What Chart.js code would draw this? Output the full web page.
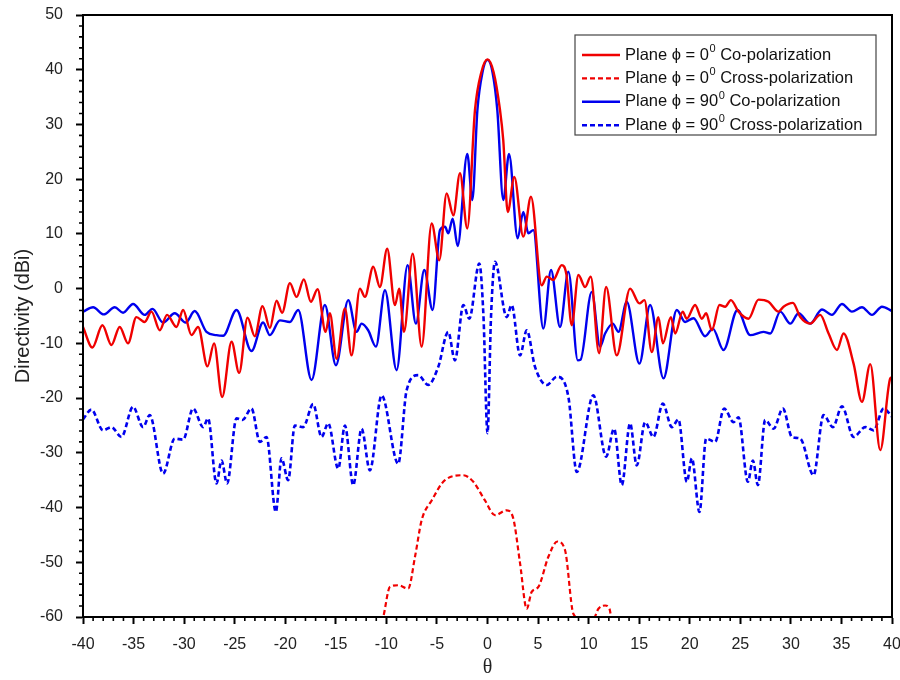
<!DOCTYPE html>
<html><head><meta charset="utf-8">
<script src="https://cdn.jsdelivr.net/npm/chart.js@4/dist/chart.umd.min.js"></script>
<style>html,body{margin:0;padding:0;background:#fff}#wrap{width:900px;height:680px;position:relative}</style>
</head><body><div id="wrap"><canvas id="c" width="900" height="680"></canvas></div>
<script>
// ---- data (theta in degrees, directivity in dBi) ----
const thetaCo0 = [-40,-39.07,-38.08,-37.19,-36.37,-35.55,-34.72,-33.9,-33.23,-32.41,-31.69,-30.76,-30.1,-29.27,-28.62,-27.69,-27.04,-26.24,-25.31,-24.56,-23.73,-23.01,-22.25,-21.52,-20.86,-20.31,-19.54,-18.88,-18.16,-17.47,-16.8,-16.01,-15.59,-14.92,-14.1,-13.44,-12.62,-12.12,-11.3,-10.64,-9.92,-9.15,-8.73,-8.26,-7.4,-6.51,-5.52,-4.77,-4.04,-3.38,-2.72,-2.0,-1.24,-0.6,0,0.6,1.24,1.56,2.0,2.65,3.54,4.3,5.36,5.86,6.5,7.34,7.8,8.33,8.99,9.65,10.21,11.03,11.73,12.78,14.1,15.02,15.52,16.25,16.9,17.34,18.13,18.56,19.3,19.7,20.53,21.2,21.62,22.18,22.94,23.5,24.07,24.82,25.81,26.8,27.79,28.78,29.27,30.2,30.93,31.91,32.9,33.73,34.56,35.21,36.2,37.03,37.85,38.84,39.83,40];
const dirCo0   = [-7.0,-10.75,-6.7,-10.3,-7.0,-10.0,-5.2,-6.1,-4.2,-7.6,-4.8,-7.0,-3.9,-8.5,-7.0,-14.2,-10.0,-19.8,-9.7,-15.4,-5.3,-8.7,-3.2,-7.2,-2.2,-4.4,1.0,-1.5,1.7,-2.4,-0.1,-7.9,-4.5,-12.8,-3.6,-12.2,0.0,-1.5,4.0,0.3,7.3,-3.0,0.0,-7.9,6.4,-10.6,11.9,5.2,17.4,13.4,21.1,11.0,32.6,39.6,41.9,39.6,32.6,27.1,14.0,20.4,9.5,16.8,0.6,2.2,1.6,4.3,2.6,-6.7,2.5,0.3,2.2,-11.8,0.3,-12.2,0.0,-2.7,-2.1,-11.6,-5.2,-10.0,-5.2,-8.2,-4.2,-5.5,-3.0,-5.5,-4.5,-7.6,-3.0,-3.3,-2.1,-4.2,-5.5,-2.0,-2.4,-4.2,-3.3,-2.6,-5.2,-6.4,-4.8,-8.2,-11.2,-8.2,-13.7,-20.7,-13.8,-29.5,-16.4,-16.2];

const thetaCross0 = [-10.5,-10.31,-9.65,-8.83,-7.84,-7.17,-6.51,-5.52,-4.21,-2.39,-1.4,-0.25,0.74,1.9,2.55,3.22,3.88,4.37,5.03,6.02,6.91,7.67,8.49,9.15,10.47,10.97,11.63,12.06,12.3];
const dirCross0   = [-61,-60,-54.5,-54.2,-54.8,-49.0,-42.3,-38.7,-35.0,-34.1,-35.3,-38.7,-41.4,-40.5,-42.0,-50.2,-58.5,-55.4,-54.5,-49.0,-46.2,-47.8,-59.4,-60.3,-60.3,-58.5,-57.9,-58.5,-61];

const thetaCo90 = [-40,-39.0,-37.95,-36.86,-36.04,-35.05,-33.89,-33.13,-32.08,-30.93,-29.84,-28.95,-27.79,-26.8,-26.14,-24.82,-23.34,-22.19,-21.52,-20.53,-19.54,-18.72,-17.4,-16.08,-14.99,-13.77,-12.95,-12.45,-11.8,-11.03,-10.14,-8.99,-7.9,-7.08,-6.25,-5.43,-4.7,-4.2,-3.88,-3.44,-2.95,-2.0,-1.5,-1.0,-0.5,0,0.5,0.97,1.56,2.13,2.98,3.54,4.04,4.53,5.52,6.28,7.17,8.0,8.93,9.2,10.31,11.13,11.63,12.39,12.95,13.77,15.02,16.08,17.4,18.72,19.54,20.37,21.52,22.28,23.34,24.72,25.98,27.29,27.96,28.95,29.94,30.76,31.91,33.07,34.06,35.05,36.04,37.03,38.02,39.01,40];
const dirCo90   = [-4.2,-3.4,-4.7,-3.4,-4.4,-2.8,-4.8,-3.7,-6.2,-4.5,-6.2,-4.1,-7.9,-8.5,-8.6,-3.9,-11.4,-6.2,-8.5,-5.8,-6.1,-3.9,-16.7,-3.0,-14.0,-2.1,-7.9,-6.4,-7.6,-10.6,-0.3,-14.9,4.3,-6.4,3.4,-3.9,10.7,11.3,10.1,12.8,7.8,24.6,16.2,32.6,39.5,41.8,39.5,32.6,16.2,24.6,9.2,14.0,10.1,10.7,-7.3,3.4,-7.0,3.1,-13.1,-13.0,-0.6,-10.6,-8.2,-6.4,-7.9,-2.4,-13.7,-3.0,-16.4,-3.9,-6.1,-5.4,-8.7,-7.3,-11.2,-3.9,-8.5,-7.9,-8.2,-4.2,-6.4,-4.5,-6.4,-3.8,-4.8,-2.8,-4.2,-3.4,-4.8,-3.3,-4.1];

const thetaCross90 = [-40,-39.17,-38.02,-37.19,-36.2,-35.05,-34.06,-33.4,-32.08,-30.93,-30.1,-29.11,-28.12,-27.63,-26.8,-26.3,-25.75,-24.82,-24.23,-23.34,-22.51,-21.85,-20.93,-20.37,-19.71,-19.05,-18.23,-17.24,-16.41,-15.75,-14.76,-14.1,-13.28,-12.45,-11.63,-10.47,-8.83,-8.0,-6.85,-5.86,-4.87,-3.88,-3.22,-2.39,-1.8,-0.81,-0.4,0,0.35,0.74,1.9,2.39,3.22,3.88,4.7,5.86,6.85,8.0,8.83,10.47,11.73,12.52,13.28,14.1,14.76,15.59,16.41,17.34,18.23,18.88,19.71,20.21,20.96,21.62,22.51,23.4,24.33,24.82,25.75,26.24,26.74,27.46,28.29,29.21,30.1,30.93,32.24,33.23,34.16,35.05,36.2,37.36,38.18,39.17,40];
const dirCross90   = [-23.9,-22.1,-25.9,-25.3,-27.1,-21.6,-25.3,-23.1,-33.8,-27.4,-27.6,-21.9,-25.3,-23.7,-35.6,-31.4,-35.6,-23.7,-24.0,-21.9,-28.0,-27.1,-40.8,-31.0,-35.0,-25.0,-25.3,-21.1,-27.1,-24.6,-32.9,-25.0,-35.9,-25.6,-33.2,-19.5,-32.0,-18.6,-15.8,-17.6,-14.3,-7.9,-13.1,-3.0,-5.5,4.6,-5.0,-26.4,-5.0,4.9,-5.2,-3.0,-12.2,-7.6,-14.3,-17.6,-16.1,-19.8,-33.5,-19.5,-30.7,-25.6,-35.9,-24.6,-32.3,-24.4,-27.1,-21.0,-25.3,-23.9,-35.3,-31.0,-40.8,-27.4,-28.0,-21.9,-24.4,-23.5,-35.3,-31.4,-35.9,-24.0,-25.6,-21.9,-27.1,-27.4,-34.1,-23.1,-25.3,-21.5,-27.1,-25.3,-25.9,-21.9,-23.4];

const planeAngles = ['0','0','90','90'];
const polarizations = ['Co-polarization','Cross-polarization','Co-polarization','Cross-polarization'];
const xTickLabels = [-40,-35,-30,-25,-20,-15,-10,-5,0,5,10,15,20,25,30,35,40];
const yTickLabels = [-60,-50,-40,-30,-20,-10,0,10,20,30,40,50];

const RED = 'rgb(240,0,0)', BLUE = 'rgb(0,0,238)';
const pts = (xs, ys) => xs.map((v, i) => ({x: v, y: ys[i]}));
const labelOf = i => 'Plane \u03D5 = ' + planeAngles[i] + '\u2070 ' + polarizations[i];

const minorTicks = {
  id: 'minorTicks',
  afterDraw(chart) {
    const {ctx, chartArea: a, scales: {x, y}} = chart;
    ctx.save();
    ctx.strokeStyle = '#000';
    ctx.lineWidth = 1.6;
    ctx.beginPath();
    for (let v = -40; v <= 40; v += 1) {
      if (v % 5 === 0) continue;
      const px = x.getPixelForValue(v);
      ctx.moveTo(px, a.bottom); ctx.lineTo(px, a.bottom + 4);
    }
    for (let v = -60; v <= 50; v += 2) {
      if (v % 10 === 0) continue;
      const py = y.getPixelForValue(v);
      ctx.moveTo(a.left - 4, py); ctx.lineTo(a.left, py);
    }
    ctx.stroke();
    ctx.lineWidth = 2;
    ctx.strokeRect(a.left, a.top, a.right - a.left, a.bottom - a.top);
    ctx.restore();
  }
};

const boxLegend = {
  id: 'boxLegend',
  afterDraw(chart) {
    const ctx = chart.ctx;
    const bx = 575, by = 35, bw = 301, bh = 100;
    ctx.save();
    ctx.fillStyle = '#fff';
    ctx.fillRect(bx, by, bw, bh);
    ctx.strokeStyle = '#444';
    ctx.lineWidth = 1.2;
    ctx.strokeRect(bx, by, bw, bh);
    chart.data.datasets.forEach((ds, i) => {
      const cy = 55 + i * 23.4;
      ctx.strokeStyle = ds.borderColor;
      ctx.lineWidth = ds.borderWidth;
      ctx.setLineDash(ds.borderDash || []);
      ctx.beginPath(); ctx.moveTo(582, cy); ctx.lineTo(620, cy); ctx.stroke();
      ctx.setLineDash([]);
      ctx.fillStyle = '#111';
      ctx.textBaseline = 'middle';
      let tx = 625;
      const f = '16.5px "Liberation Sans", Arial, sans-serif';
      const fs = '11px "Liberation Sans", Arial, sans-serif';
      ctx.font = f;
      const p1 = 'Plane \u03D5 = ' + planeAngles[i];
      ctx.fillText(p1, tx, cy); tx += ctx.measureText(p1).width + 0.5;
      ctx.font = fs;
      ctx.fillText('0', tx, cy - 6); tx += ctx.measureText('0').width;
      ctx.font = f;
      ctx.fillText(' ' + polarizations[i], tx, cy);
    });
    ctx.restore();
  }
};

new Chart(document.getElementById('c'), {
  type: 'scatter',
  data: {
    datasets: [
      {label: labelOf(0), data: pts(thetaCo0, dirCo0), borderColor: RED, borderWidth: 2.4},
      {label: labelOf(1), data: pts(thetaCross0, dirCross0), borderColor: RED, borderWidth: 2.2, borderDash: [5, 3]},
      {label: labelOf(2), data: pts(thetaCo90, dirCo90), borderColor: BLUE, borderWidth: 2.4},
      {label: labelOf(3), data: pts(thetaCross90, dirCross90), borderColor: BLUE, borderWidth: 2.6, borderDash: [5, 3]}
    ].map(d => Object.assign(d, {showLine: true, pointRadius: 0, fill: false, cubicInterpolationMode: 'monotone', backgroundColor: d.borderColor}))
  },
  options: {
    responsive: false,
    animation: false,
    layout: {padding: {left: 11, right: 8, top: 15, bottom: 0}},
    plugins: {legend: {display: false}, tooltip: {enabled: false}},
    scales: {
      x: {
        type: 'linear', min: -40, max: 40,
        afterBuildTicks: s => { s.ticks = xTickLabels.map(v => ({value: v})); },
        afterFit: s => { s.height = 63; s.paddingLeft = 0; s.paddingRight = 0; },
        grid: {drawOnChartArea: false, drawTicks: true, tickLength: 7, tickWidth: 2, tickColor: '#000'},
        border: {display: true, color: '#000', width: 2},
        ticks: {color: '#222', padding: 11, font: {family: '"Liberation Sans", Arial, sans-serif', size: 16}, maxRotation: 0},
        title: {display: true, text: '\u03B8', color: '#222', font: {family: '"Liberation Serif", "Times New Roman", serif', size: 20}, padding: {top: 0, bottom: 0}}
      },
      y: {
        type: 'linear', min: -60, max: 50,
        afterBuildTicks: s => { s.ticks = yTickLabels.map(v => ({value: v})); },
        afterFit: s => { s.width = 72; s.paddingTop = 0; s.paddingBottom = 0; },
        grid: {drawOnChartArea: false, drawTicks: true, tickLength: 7, tickWidth: 2, tickColor: '#000'},
        border: {display: true, color: '#000', width: 2},
        ticks: {color: '#222', padding: 13, font: {family: '"Liberation Sans", Arial, sans-serif', size: 16}},
        title: {display: true, text: 'Directivity (dBi)', color: '#222', font: {family: '"Liberation Sans", Arial, sans-serif', size: 20}, padding: {top: 0, bottom: 0}}
      }
    }
  },
  plugins: [minorTicks, boxLegend]
});
</script></body></html>
